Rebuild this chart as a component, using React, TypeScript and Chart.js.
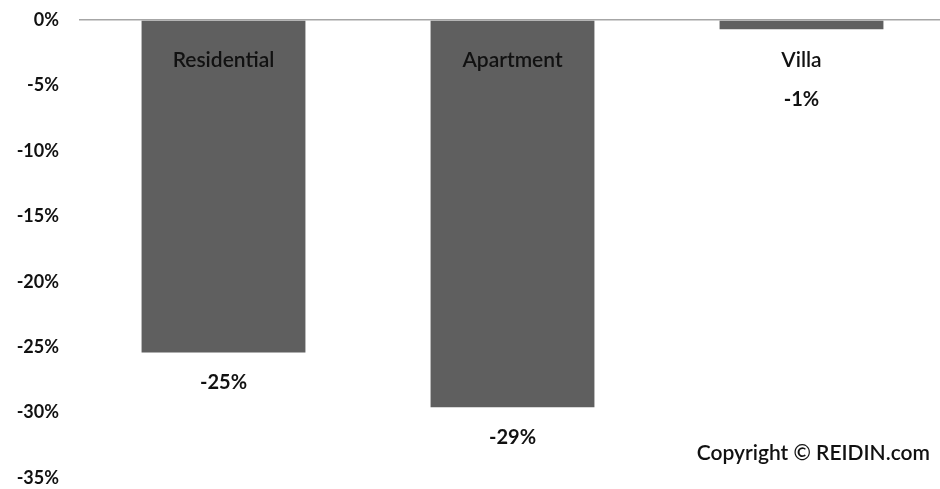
import React, { useEffect, useRef } from "react";
import { Chart, registerables } from "chart.js";

Chart.register(...registerables);

const categories = ["Residential", "Apartment", "Villa"];
const values = [-25.4, -29.6, -0.7];
const valueLabels = ["-25%", "-29%", "-1%"];
const yTicks = [0, -5, -10, -15, -20, -25, -30, -35];
const copyright = "Copyright © REIDIN.com";

const FONT = "Lato, 'Open Sans', sans-serif";

const labelPlugin = {
  id: "barLabels",
  afterDatasetsDraw(chart: any) {
    const { ctx, chartArea } = chart;
    const meta = chart.getDatasetMeta(0);
    ctx.save();
    ctx.textAlign = "center";
    ctx.textBaseline = "middle";
    ctx.fillStyle = "#111";
    const nameY = chartArea.top + 40;
    meta.data.forEach((bar: any, i: number) => {
      ctx.font = `600 21px ${FONT}`;
      ctx.fillText(categories[i], bar.x, nameY);
      const vy = Math.max(bar.y + 30, nameY + 40);
      ctx.font = `bold 20px ${FONT}`;
      ctx.fillText(valueLabels[i], bar.x, vy);
    });
    ctx.textAlign = "right";
    ctx.font = `600 21px ${FONT}`;
    ctx.fillText(copyright, 930, 453);
    ctx.restore();
  },
};

export default function App() {
  const ref = useRef<HTMLCanvasElement | null>(null);
  useEffect(() => {
    document.body.style.margin = "0";
    const chart = new Chart(ref.current as HTMLCanvasElement, {
      type: "bar",
      data: {
        labels: categories,
        datasets: [
          {
            data: values,
            backgroundColor: "#5f5f5f",
            barPercentage: 1,
            categoryPercentage: 0.567,
          },
        ],
      },
      options: {
        responsive: false,
        animation: false,
        layout: { padding: { top: 20, bottom: 11, right: 0, left: 0 } },
        plugins: { legend: { display: false }, tooltip: { enabled: false } },
        scales: {
          x: { display: false, offset: true },
          y: {
            min: -35,
            max: 0,
            afterFit(scale: any) {
              scale.width = 79;
              scale.paddingTop = 0;
              scale.paddingBottom = 0;
            },
            afterBuildTicks(scale: any) {
              scale.ticks = yTicks.map((v) => ({ value: v }));
            },
            border: { display: false },
            grid: {
              drawTicks: false,
              color: (c: any) => (c.tick && c.tick.value === 0 ? "#a6a6a6" : "rgba(0,0,0,0)"),
              lineWidth: 1.5,
            },
            ticks: {
              padding: 20,
              color: "#111",
              font: { family: FONT, size: 18, weight: "bold" },
              callback: (v: any) => `${v}%`,
            },
          },
        },
      },
      plugins: [labelPlugin],
    });
    return () => chart.destroy();
  }, []);
  return (
    <div style={{ position: "fixed", left: 0, top: 0, width: 940, height: 489, overflow: "hidden", background: "#fff" }}>
      <canvas ref={ref} width={946} height={489} style={{ display: "block" }} />
    </div>
  );
}
